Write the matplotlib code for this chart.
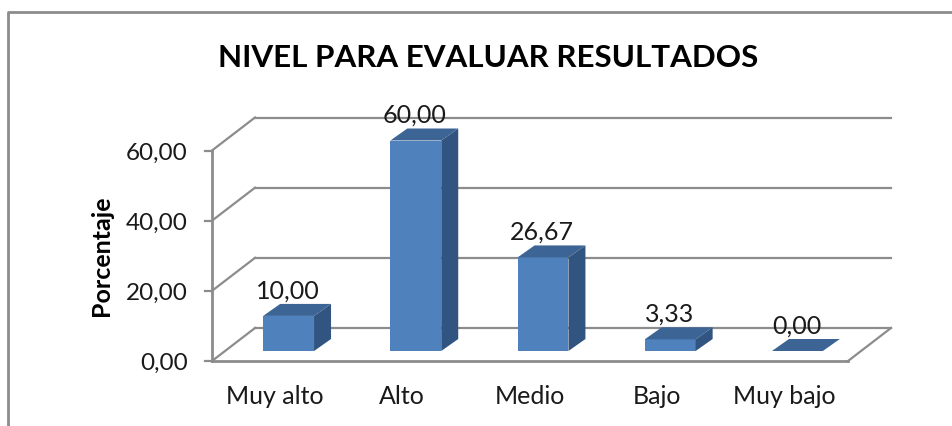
import matplotlib
matplotlib.use("Agg")
import matplotlib.pyplot as plt
from matplotlib.patches import Polygon
from matplotlib.transforms import Affine2D

categories = ["Muy alto", "Alto", "Medio", "Bajo", "Muy bajo"]
values = [10.00, 60.00, 26.67, 3.33, 0.00]
labels = ["10,00", "60,00", "26,67", "3,33", "0,00"]
y_ticks = [0, 20, 40, 60]
y_tick_labels = ["0,00", "20,00", "40,00", "60,00"]

plt.rcParams["font.family"] = ["Lato", "DejaVu Sans"]

W, H = 953, 427
fig = plt.figure(figsize=(W / 100, H / 100), dpi=100)

# axes box is the front of the 3d floor, pixel positions from the picture
left, right, floor, top = 212, 848, 362, 151.5
ax = fig.add_axes([left / W, 1 - floor / H, (right - left) / W, (floor - top) / H])
ax.set_xlim(-0.5, 4.5)
ax.set_ylim(0, 60)
ax.axis("off")

grey = "#8c8c8c"
front = "#4f81bd"
topc = "#3c6494"
side = "#325480"
text_c = "#1a1a1a"

# shifts in pixels
depth = (43, 33)
bar_shift = (13, 10)
bar_depth = (17, 12)
bar_w = 0.4


def shifted(dx, dy):
    return ax.transData + Affine2D().translate(dx, dy)


back = shifted(*depth)
for t, lab in zip(y_ticks, y_tick_labels):
    # back wall line and the slanted bit down to the axis
    ax.plot([-0.5, 4.5], [t, t], color=grey, lw=1.6, transform=back, clip_on=False, zorder=1)
    x0, y0 = ax.transData.transform((-0.5, t))
    fig.add_artist(plt.Line2D([x0, x0 + depth[0]], [y0, y0 + depth[1]], color=grey, lw=1.6, transform=None, zorder=1))
    # tick mark
    fig.add_artist(plt.Line2D([x0 - 7, x0], [y0, y0], color=grey, lw=1.6, transform=None))
    ax.text(-0.5, t, lab, transform=shifted(-24, -1.5), ha="right", va="center", fontsize=17.5, color=text_c)

# left axis, front floor edge, right floor edge
ax.plot([-0.5, -0.5], [0, 60], color=grey, lw=2, clip_on=False, zorder=2)
ax.plot([-0.5, 4.5], [0, 0], color=grey, lw=2, clip_on=False, zorder=2)
x1, y1 = ax.transData.transform((4.5, 0))
fig.add_artist(plt.Line2D([x1, x1 + depth[0]], [y1, y1 + depth[1]], color=grey, lw=1.6, transform=None, zorder=1))

trans = shifted(*bar_shift)
for i, v in enumerate(values):
    xa, xb = i - bar_w / 2, i + bar_w / 2
    p0 = ax.transData.transform((xa, 0))
    p1 = ax.transData.transform((xb, v))
    x_a, y_a = p0[0] + bar_shift[0], p0[1] + bar_shift[1]
    x_b, y_b = p1[0] + bar_shift[0], p1[1] + bar_shift[1]
    dx, dy = bar_depth
    if v > 0:
        ax.add_patch(Polygon([(xa, 0), (xb, 0), (xb, v), (xa, v)], closed=True, fc=front, ec="none",
                             transform=trans, clip_on=False, zorder=4))
        fig.add_artist(Polygon([(x_b, y_a), (x_b + dx, y_a + dy), (x_b + dx, y_b + dy), (x_b, y_b)], closed=True,
                               fc=side, ec="none", transform=None, zorder=4))
    fig.add_artist(Polygon([(x_a, y_b), (x_b, y_b), (x_b + dx, y_b + dy), (x_a + dx, y_b + dy)], closed=True,
                           fc=topc, ec="none", transform=None, zorder=4))
    # value label
    ax.text(i, v, labels[i], transform=shifted(bar_shift[0] - 1, bar_shift[1] + 26), ha="center", va="center",
            fontsize=18, color=text_c, clip_on=False, zorder=5)
    # category label
    ax.text(i, 0, categories[i], transform=shifted(-0.5, -34.5), ha="center", va="center",
            fontsize=18, color=text_c, clip_on=False)

fig.text(488 / W, 1 - 58 / H, "NIVEL PARA EVALUAR RESULTADOS", ha="center", va="center",
         fontsize=22.6, fontweight="bold", color="black")
fig.text(102 / W, 1 - 256 / H, "Porcentaje", rotation=90, ha="center", va="center",
         fontsize=18, fontweight="bold", color="black")

# outer chart frame, cut off by the crop
fig.add_artist(plt.Line2D([8 / W, 8 / W, 1], [0, 1 - 13 / H, 1 - 13 / H], color=grey, lw=2))

fig.savefig("out.png", dpi=100, facecolor="white")
